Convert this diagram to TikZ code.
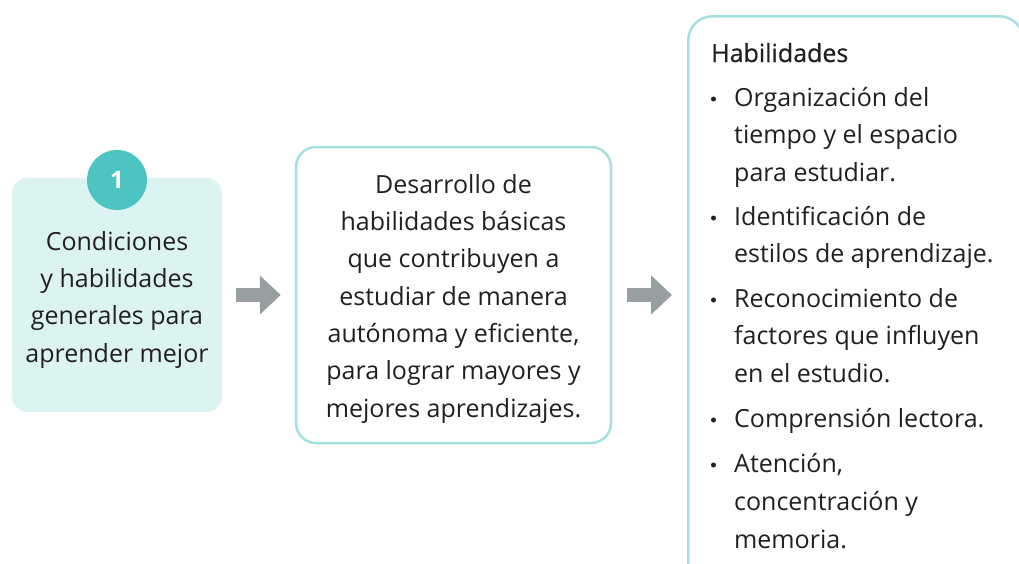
\documentclass[tikz,border=0pt]{standalone}
\usepackage{fontspec}
\setmainfont{Open Sans}
\usetikzlibrary{arrows.meta}
\definecolor{txt}{HTML}{231F20}
\definecolor{lfill}{HTML}{DBF3F1}
\definecolor{circ}{HTML}{4CC4C2}
\definecolor{bord}{HTML}{A6E1E1}
\definecolor{arr}{HTML}{989FA0}
\tikzset{
  ltxt/.style={anchor=base, inner sep=0pt, text=txt, font=\fontsize{25}{30}\selectfont},
  rtxt/.style={anchor=base west, inner sep=0pt, text=txt, font=\fontsize{25}{30}\selectfont},
  bul/.style={circle, fill=txt, inner sep=0pt, minimum size=5pt},
  blockarrow/.style={draw=arr, line width=14pt, -{Triangle[length=21pt,width=38pt]}},
}
\begin{document}
\begin{tikzpicture}[x=1pt,y=-1pt]
\useasboundingbox (0,0) rectangle (1019,563);
\clip (0,0) rectangle (1019,563);
% boxes
\node[fill=lfill, rounded corners=16pt, minimum width=210pt, minimum height=234pt, inner sep=0pt] (left) at (117,295) {};
\node[draw=bord, line width=2.5pt, fill=white, rounded corners=20pt, minimum width=315pt, minimum height=296pt, inner sep=0pt] (mid) at (453.5,295) {};
\node[draw=bord, line width=2.5pt, fill=white, rounded corners=24pt, minimum width=335pt, minimum height=600pt, inner sep=0pt, anchor=north west] (right) at (687,15) {};
% circle
\node[circle, fill=circ, minimum size=60pt, inner sep=0pt, text=white, font=\fontsize{24}{28}\bfseries\selectfont] (one) at (117,180) {1};
% left text
\node[ltxt] (l1) at (117,250) {Condiciones};
\node[ltxt] (l2) at (117,287.3) {y habilidades};
\node[ltxt] (l3) at (117,324.7) {generales para};
\node[ltxt] (l4) at (117,362) {aprender mejor};
% middle text
\node[ltxt] (m1) at (453.5,193) {Desarrollo de};
\node[ltxt] (m2) at (453.5,230.3) {habilidades básicas};
\node[ltxt] (m3) at (453.5,267.7) {que contribuyen a};
\node[ltxt] (m4) at (453.5,305) {estudiar de manera};
\node[ltxt] (m5) at (453.5,342.3) {autónoma y eficiente,};
\node[ltxt] (m6) at (453.5,379.7) {para lograr mayores y};
\node[ltxt] (m7) at (453.5,417) {mejores aprendizajes.};
% right text
\node[rtxt, font=\fontsize{25}{30}\selectfont\addfontfeature{FakeBold=0.5}] (h) at (711,62) {Habilidades};
\node[bul] (b1) at (713.5,99) {};
\node[rtxt] (r1a) at (734,106) {Organización del};
\node[rtxt] (r1b) at (734,143.5) {tiempo y el espacio};
\node[rtxt] (r1c) at (734,181) {para estudiar.};
\node[bul] (b2) at (713.5,218) {};
\node[rtxt] (r2a) at (734,225) {Identificación de};
\node[rtxt] (r2b) at (734,262.5) {estilos de aprendizaje.};
\node[bul] (b3) at (713.5,300) {};
\node[rtxt] (r3a) at (734,307) {Reconocimiento de};
\node[rtxt] (r3b) at (734,344.5) {factores que influyen};
\node[rtxt] (r3c) at (734,382) {en el estudio.};
\node[bul] (b4) at (713.5,420) {};
\node[rtxt] (r4a) at (734,427) {Comprensión lectora.};
\node[bul] (b5) at (713.5,465) {};
\node[rtxt] (r5a) at (734,472) {Atención,};
\node[rtxt] (r5b) at (734,510) {concentración y};
\node[rtxt] (r5c) at (734,548) {memoria.};
% arrows
\draw[blockarrow, shorten <=14pt, shorten >=14pt] (left.east |- 0,295) -- (mid.west |- 0,295);
\draw[blockarrow, shorten <=15pt, shorten >=15pt] (mid.east |- 0,295) -- (right.west |- 0,295);
\end{tikzpicture}
\end{document}
